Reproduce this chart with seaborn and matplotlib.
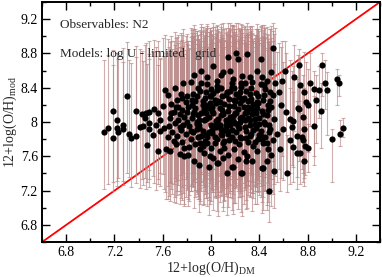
import matplotlib
matplotlib.use("Agg")
import matplotlib.pyplot as plt
from matplotlib.ticker import MultipleLocator, FormatStrFormatter
import numpy as np
import pandas as pd
import seaborn as sns

# 12+log(O/H) from direct method (x), model estimate (y), and model range (lo/hi)
oh_dm = [
    # sparse low-metallicity end
    7.11, 7.15, 7.19, 7.19, 7.22, 7.23, 7.27, 7.27, 7.30, 7.34,
    7.38, 7.38, 7.43, 7.44, 7.46, 7.47, 7.49, 7.49, 7.49, 7.52,
    7.54, 7.56, 7.56, 7.58, 7.60, 7.61, 7.22, 7.32, 7.41, 7.45,
    7.53, 7.58,
    7.62, 7.63, 7.64, 7.65, 7.66, 7.66, 7.67, 7.68, 7.69, 7.70,
    7.70, 7.71, 7.72, 7.72, 7.73, 7.73, 7.74, 7.74, 7.75, 7.75,
    7.76, 7.76, 7.77, 7.77, 7.78, 7.78, 7.79, 7.79, 7.80, 7.80,
    7.64, 7.67, 7.69, 7.71, 7.74, 7.76, 7.78, 7.80,
    # dense core
    7.81, 7.83, 7.82, 7.84, 7.81, 7.85, 7.83, 7.82,
    7.86, 7.87, 7.85, 7.88, 7.86, 7.87, 7.89, 7.86, 7.88,
    7.90, 7.91, 7.92, 7.90, 7.89, 7.93, 7.91, 7.92, 7.90,
    7.94, 7.95, 7.93, 7.96, 7.94, 7.95, 7.97, 7.93, 7.96,
    7.98, 7.99, 7.97, 8.00, 7.98, 7.99, 8.00, 7.97, 8.01, 7.98,
    8.02, 8.03, 8.01, 8.04, 8.02, 8.03, 8.05, 8.02, 8.04, 8.01,
    8.06, 8.07, 8.05, 8.08, 8.06, 8.07, 8.09, 8.05, 8.08, 8.06,
    8.10, 8.11, 8.09, 8.12, 8.10, 8.11, 8.13, 8.10, 8.12, 8.09,
    8.14, 8.15, 8.13, 8.16, 8.14, 8.15, 8.17, 8.14, 8.16,
    8.18, 8.19, 8.17, 8.20, 8.18, 8.19, 8.21, 8.18, 8.20, 8.17,
    8.22, 8.23, 8.21, 8.24, 8.22, 8.23, 8.25, 8.22, 8.24,
    8.26, 8.27, 8.25, 8.28, 8.26, 8.27, 8.29, 8.26, 8.28,
    8.30, 8.31, 8.29, 8.32, 8.30, 8.31, 8.33, 8.30, 8.32,
    8.34, 8.35, 8.33, 8.36, 8.34, 8.35, 8.37, 8.34, 8.36,
    8.38, 8.39, 8.37, 8.40, 8.38, 8.39, 8.41, 8.38,
    8.42, 8.43, 8.41, 8.44, 8.42, 8.43, 8.45, 8.42,
    8.46, 8.47, 8.45, 8.48, 8.46, 8.47, 8.49, 8.46,
    8.50, 8.51, 8.49, 8.52, 8.50, 8.51, 8.53, 8.50,
    7.88, 7.96, 8.00, 8.04, 8.08, 8.12, 8.16, 8.20, 8.24, 8.28,
    8.32, 8.36, 7.92, 8.00, 8.08, 8.16, 8.24, 8.32, 8.40, 7.84,
    8.48, 8.13, 8.25, 8.17, 8.52, 8.05, 8.29, 8.43, 8.21, 8.41, 8.51,
    7.83, 7.87, 7.91, 7.95, 7.99, 8.03, 8.07, 8.11, 8.15, 8.19,
    8.23, 8.27, 8.31, 8.35, 8.39, 8.43, 8.47, 7.85, 7.89, 7.93,
    7.97, 8.01, 8.05, 8.09, 8.13, 8.17, 8.21, 8.25, 8.29, 8.33,
    8.37, 8.41, 8.45, 8.49, 7.84, 7.88, 7.92, 7.96, 8.00, 8.04,
    8.08, 8.12, 8.16, 8.20, 8.24, 8.28, 8.32, 8.36, 8.40, 8.44,
    8.48, 7.90, 7.98, 8.06, 8.14, 8.22, 8.30, 8.38, 8.46, 8.02,
    8.10, 8.18, 8.26, 8.34, 8.42, 7.94, 8.07, 8.19, 8.31, 8.44,
    # high-metallicity end
    8.61, 8.73, 8.92, 8.69, 9.04, 9.06, 8.82, 8.94, 8.85, 8.89,
    8.96, 8.77, 8.74, 8.87, 8.79, 8.80, 8.91, 8.76, 8.85, 9.00,
    9.07, 9.09, 8.77, 8.76, 8.78, 8.80, 8.77, 8.74, 8.71, 8.68,
    8.71, 8.75, 8.67, 8.68, 8.72, 8.73, 8.65, 8.65, 8.63, 8.58,
    8.60, 8.56, 8.62, 8.57, 8.59, 8.55,
]

oh_mod = [
    7.88, 7.93, 8.13, 7.81, 7.93, 7.88, 7.96, 7.92, 8.30, 7.81,
    8.13, 7.84, 8.09, 7.95, 8.10, 7.73, 8.12, 7.99, 7.92, 7.85,
    7.97, 7.66, 8.11, 7.90, 8.19, 7.93, 8.02, 7.86, 7.94, 8.05,
    8.15, 8.02,
    8.37, 7.68, 8.31, 7.95, 8.05, 7.66, 8.21, 7.88, 8.12, 7.99,
    8.40, 7.74, 8.26, 7.84, 8.02, 8.17, 7.63, 8.09, 8.33, 7.91,
    8.14, 7.77, 8.45, 7.97, 8.06, 7.70, 8.23, 7.86, 8.30, 8.00,
    7.82, 8.10, 7.78, 8.18, 7.94, 8.28, 7.60, 8.12,
    7.62, 7.80, 7.95, 8.05, 8.18, 8.33, 8.47, 7.71,
    7.55, 7.74, 7.88, 8.00, 8.12, 8.25, 8.40, 8.55, 7.98,
    7.50, 7.68, 7.84, 7.93, 8.08, 8.20, 8.36, 8.60, 8.02,
    7.64, 7.78, 7.90, 8.04, 8.15, 8.28, 8.44, 7.72, 8.10,
    7.47, 7.60, 7.82, 7.96, 8.06, 8.22, 8.38, 8.52, 8.13, 7.88,
    7.58, 7.75, 7.87, 8.01, 8.11, 8.26, 8.42, 8.65, 7.94, 8.18,
    7.52, 7.66, 7.80, 7.92, 8.04, 8.16, 8.30, 8.48, 8.08, 7.98,
    7.58, 7.70, 7.85, 7.97, 8.09, 8.21, 8.35, 8.58, 8.02, 8.14,
    7.62, 7.79, 7.90, 8.03, 8.13, 8.27, 8.45, 8.76, 7.96,
    7.48, 7.68, 7.83, 7.99, 8.07, 8.19, 8.33, 8.50, 8.11, 7.91,
    7.57, 7.74, 7.88, 8.00, 8.15, 8.29, 8.41, 8.73, 8.05,
    7.40, 7.65, 7.81, 7.94, 8.06, 8.18, 8.36, 8.54, 8.10,
    7.60, 7.77, 7.89, 8.02, 8.12, 8.24, 8.40, 8.79, 7.97,
    7.54, 7.72, 7.86, 7.98, 8.09, 8.21, 8.34, 8.47, 8.03,
    7.66, 7.80, 7.93, 8.05, 8.16, 8.30, 8.44, 8.60,
    7.46, 7.75, 7.90, 8.00, 8.13, 8.26, 8.38, 8.52,
    7.54, 7.68, 7.82, 7.96, 8.08, 8.20, 8.35, 8.48,
    7.62, 7.79, 7.92, 8.04, 8.18, 8.32, 8.45, 8.58,
    8.30, 8.35, 7.70, 8.22, 8.40, 7.92, 8.36, 8.25, 7.83, 8.45,
    7.84, 8.12, 8.46, 8.30, 8.55, 8.60, 8.35, 8.52, 7.85, 8.20,
    7.20, 7.40, 7.40, 7.47, 7.43, 7.52, 7.54, 7.46, 8.80, 8.74, 8.86,
    7.90, 8.16, 7.76, 8.20, 8.30, 7.83, 8.23, 7.78, 8.19, 8.26,
    7.93, 8.28, 8.17, 7.91, 8.22, 8.09, 8.14, 8.09, 7.82, 8.24,
    7.75, 7.91, 8.37, 7.90, 8.00, 8.41, 8.10, 8.46, 7.81, 8.27,
    8.11, 7.84, 7.98, 8.24, 8.26, 7.92, 8.11, 7.85, 8.19, 7.97,
    7.86, 8.31, 8.06, 7.78, 8.22, 8.02, 8.33, 7.77, 7.98, 8.43,
    7.88, 7.96, 8.16, 8.24, 7.86, 7.95, 8.15, 8.23, 7.75, 8.34,
    7.75, 8.01, 8.26, 8.15, 7.80, 8.02, 7.96, 8.40, 8.05, 8.31,
    8.60, 8.66, 8.66, 8.53, 8.50, 8.46, 8.46, 8.46, 8.38, 8.37,
    8.37, 8.35, 8.43, 8.26, 8.23, 8.20, 8.13, 8.06, 7.95, 7.80,
    7.86, 7.93, 7.92, 7.79, 7.72, 7.70, 7.54, 7.64, 7.64, 7.71,
    7.84, 7.82, 7.94, 8.01, 8.16, 8.15, 8.03, 7.79, 7.40, 8.20,
    7.92, 8.35, 8.12, 7.68, 8.48, 7.86,
]

oh_lo = [
    7.22, 7.28, 7.30, 7.20, 7.25, 7.35, 7.31, 7.27, 7.40, 7.24,
    7.38, 7.29, 7.33, 7.26, 7.22, 7.30, 7.44, 7.34, 7.24, 7.37,
    7.21, 7.28, 7.33, 7.25, 7.39, 7.22, 7.31, 7.36, 7.23, 7.35,
    7.29, 7.40,
    7.18, 7.10, 7.25, 7.14, 7.30, 7.08, 7.22, 7.16, 7.28, 7.12,
    7.35, 7.06, 7.20, 7.15, 7.26, 7.32, 7.04, 7.19, 7.38, 7.11,
    7.24, 7.09, 7.40, 7.17, 7.27, 7.05, 7.33, 7.13, 7.36, 7.21,
    7.10, 7.29, 7.07, 7.31, 7.16, 7.34, 7.02, 7.23,
    7.02, 7.20, 7.15, 7.28, 7.10, 7.32, 7.25, 7.08,
    7.00, 7.12, 7.24, 7.18, 7.30, 7.21, 7.35, 7.40, 7.16,
    6.95, 7.08, 7.19, 7.26, 7.14, 7.31, 7.23, 7.42, 7.10,
    7.05, 7.16, 7.27, 7.11, 7.34, 7.20, 7.38, 7.03, 7.25,
    6.92, 7.04, 7.17, 7.23, 7.13, 7.29, 7.36, 7.40, 7.21, 7.09,
    6.98, 7.14, 7.22, 7.30, 7.18, 7.25, 7.37, 7.45, 7.11, 7.33,
    6.91, 7.07, 7.18, 7.24, 7.15, 7.31, 7.27, 7.39, 7.20, 7.12,
    6.96, 7.09, 7.21, 7.16, 7.28, 7.23, 7.34, 7.42, 7.14, 7.26,
    7.01, 7.17, 7.25, 7.19, 7.32, 7.28, 7.37, 7.48, 7.13,
    6.93, 7.06, 7.20, 7.25, 7.16, 7.30, 7.34, 7.41, 7.23, 7.11,
    6.99, 7.12, 7.24, 7.17, 7.33, 7.27, 7.36, 7.47, 7.20,
    6.90, 7.05, 7.19, 7.23, 7.14, 7.29, 7.35, 7.40, 7.21,
    7.00, 7.15, 7.26, 7.18, 7.31, 7.25, 7.38, 7.50, 7.12,
    6.96, 7.11, 7.22, 7.27, 7.17, 7.30, 7.34, 7.39, 7.20,
    7.04, 7.18, 7.24, 7.29, 7.20, 7.32, 7.37, 7.43,
    6.94, 7.13, 7.25, 7.19, 7.31, 7.27, 7.36, 7.40,
    6.98, 7.07, 7.20, 7.26, 7.17, 7.30, 7.34, 7.39,
    7.02, 7.16, 7.23, 7.28, 7.21, 7.33, 7.37, 7.42,
    7.30, 7.35, 7.08, 7.28, 7.37, 7.16, 7.34, 7.29, 7.12, 7.40,
    7.14, 7.25, 7.39, 7.32, 7.43, 7.45, 7.33, 7.41, 7.15, 7.27,
    6.84, 6.92, 6.95, 6.98, 7.00, 6.96, 6.99, 6.97, 7.52, 7.48, 7.55,
    7.20, 7.33, 7.05, 7.36, 7.41, 7.12, 7.38, 7.08, 7.34, 7.40,
    7.22, 7.42, 7.31, 7.17, 7.37, 7.26, 7.29, 7.25, 7.10, 7.39,
    7.02, 7.18, 7.45, 7.15, 7.23, 7.47, 7.27, 7.50, 7.09, 7.41,
    7.28, 7.13, 7.21, 7.38, 7.40, 7.19, 7.30, 7.11, 7.35, 7.22,
    7.14, 7.44, 7.26, 7.06, 7.39, 7.24, 7.46, 7.04, 7.20, 7.48,
    7.16, 7.21, 7.33, 7.40, 7.12, 7.19, 7.32, 7.39, 7.03, 7.45,
    7.01, 7.23, 7.41, 7.31, 7.07, 7.24, 7.18, 7.46, 7.27, 7.43,
    8.10, 8.25, 8.30, 7.90, 8.20, 8.30, 7.95, 8.15, 7.60, 8.05,
    7.85, 7.70, 7.80, 7.75, 7.55, 7.65, 7.70, 7.40, 7.50, 7.30,
    7.72, 7.82, 7.35, 7.30, 7.38, 7.42, 7.25, 7.28, 7.22, 7.30,
    7.36, 7.45, 7.50, 7.48, 7.60, 7.55, 7.40, 7.28, 7.18, 7.35,
    7.32, 7.45, 7.42, 7.20, 7.60, 7.30,
]

oh_hi = [
    8.72, 8.78, 8.84, 8.66, 8.80, 8.74, 8.86, 8.70, 8.93, 8.69,
    8.89, 8.76, 8.83, 8.71, 8.92, 8.68, 8.95, 8.79, 8.73, 8.82,
    8.87, 8.67, 8.94, 8.75, 8.98, 8.77, 8.81, 8.72, 8.85, 8.90,
    8.96, 8.74,
    9.02, 8.80, 8.97, 8.88, 8.93, 8.78, 9.00, 8.85, 8.95, 8.90,
    9.05, 8.82, 8.99, 8.86, 8.92, 9.01, 8.76, 8.94, 9.04, 8.87,
    8.96, 8.83, 9.08, 8.89, 8.93, 8.79, 9.00, 8.84, 9.03, 8.91,
    8.81, 8.95, 8.80, 8.98, 8.88, 9.02, 8.75, 8.94,
    8.90, 8.99, 8.85, 9.04, 8.95, 9.08, 9.10, 8.86,
    8.86, 8.97, 8.93, 9.06, 9.00, 9.09, 9.02, 9.13, 8.91,
    8.82, 8.95, 9.05, 8.90, 9.01, 9.11, 9.07, 9.14, 8.97,
    8.88, 9.02, 8.94, 9.08, 8.98, 9.05, 9.12, 8.85, 9.00,
    8.76, 8.91, 9.00, 8.96, 9.05, 9.10, 9.01, 9.14, 8.93, 8.87,
    8.84, 8.98, 8.92, 9.07, 9.00, 9.11, 9.04, 9.15, 8.90, 9.03,
    8.78, 8.94, 9.02, 8.88, 9.06, 8.97, 9.09, 9.13, 8.99, 8.93,
    8.85, 8.96, 8.91, 9.04, 8.98, 9.08, 9.05, 9.15, 8.95, 9.01,
    8.89, 9.00, 8.95, 9.07, 9.03, 9.10, 9.12, 9.15, 8.93,
    8.80, 8.93, 9.00, 8.92, 9.05, 8.97, 9.09, 9.13, 9.02, 8.89,
    8.86, 8.97, 8.94, 9.06, 9.00, 9.10, 9.04, 9.15, 8.96,
    8.77, 8.92, 8.99, 8.91, 9.04, 8.96, 9.08, 9.13, 9.01,
    8.88, 8.99, 8.93, 9.05, 9.02, 9.09, 9.06, 9.15, 8.91,
    8.83, 8.95, 9.01, 8.92, 9.04, 8.97, 9.08, 9.12, 8.98,
    8.90, 8.98, 8.94, 9.06, 9.00, 9.08, 9.11, 9.14,
    8.79, 8.96, 8.92, 9.04, 8.99, 9.07, 9.10, 9.13,
    8.84, 8.93, 8.99, 8.91, 9.03, 8.97, 9.08, 9.11,
    8.86, 8.95, 8.93, 9.03, 8.98, 9.06, 9.10, 9.12,
    9.06, 9.10, 8.91, 9.03, 9.11, 8.95, 9.09, 9.05, 8.93, 9.12,
    8.94, 9.01, 9.11, 9.07, 9.14, 9.15, 9.08, 9.12, 8.96, 9.00,
    8.30, 8.62, 8.70, 8.75, 8.68, 8.80, 8.78, 8.72, 9.15, 9.12, 9.15,
    8.95, 9.04, 8.88, 9.07, 9.10, 8.92, 9.05, 8.87, 9.06, 9.09,
    8.96, 9.11, 9.03, 8.94, 9.08, 9.00, 9.02, 8.99, 8.91, 9.06,
    8.86, 8.97, 9.12, 8.93, 9.01, 9.13, 9.03, 9.14, 8.90, 9.09,
    9.02, 8.92, 8.98, 9.08, 9.07, 8.96, 9.03, 8.89, 9.06, 8.99,
    8.90, 9.10, 9.01, 8.88, 9.07, 8.99, 9.11, 8.87, 8.98, 9.13,
    8.94, 8.97, 9.05, 9.08, 8.91, 8.95, 9.04, 9.08, 8.86, 9.11,
    8.88, 8.99, 9.09, 9.03, 8.90, 9.00, 8.96, 9.12, 9.01, 9.10,
    8.95, 8.85, 8.80, 8.90, 8.62, 8.55, 8.80, 8.72, 8.60, 8.65,
    8.58, 8.82, 8.75, 8.55, 8.70, 8.62, 8.45, 8.55, 8.30, 7.92,
    8.02, 8.05, 8.40, 8.20, 8.05, 7.98, 7.90, 8.10, 8.25, 8.35,
    8.50, 8.45, 8.60, 8.65, 8.78, 8.70, 8.72, 8.40, 7.85, 8.88,
    8.70, 8.92, 8.80, 8.50, 8.95, 8.82,
]

one_to_one = [6.6, 9.4]

df = pd.DataFrame({"dm": oh_dm, "mod": oh_mod, "lo": oh_lo, "hi": oh_hi})

sns.set_style("ticks")
plt.rcParams["font.family"] = ["Liberation Serif", "DejaVu Serif"]
plt.rcParams["mathtext.fontset"] = "custom"
plt.rcParams["mathtext.rm"] = "Liberation Serif"

fig = plt.figure(figsize=(3.82, 2.77), dpi=100)
ax = fig.add_axes([0.110, 0.126, 0.885, 0.867])

ax.plot(one_to_one, one_to_one, color="red", lw=1.3, zorder=1)

yerr = np.vstack([df["mod"] - df["lo"], df["hi"] - df["mod"]])
ax.errorbar(df["dm"], df["mod"], yerr=yerr, fmt="none", ecolor="#b88585",
            elinewidth=0.8, capsize=1.5, capthick=0.8, alpha=0.65, zorder=2)

sns.scatterplot(data=df, x="dm", y="mod", ax=ax, color="black", s=20,
                edgecolor="black", linewidth=0, zorder=3)

ax.set_xlim(6.6, 9.4)
ax.set_ylim(6.6, 9.4)
ax.xaxis.set_major_locator(MultipleLocator(0.4))
ax.yaxis.set_major_locator(MultipleLocator(0.4))
ax.xaxis.set_minor_locator(MultipleLocator(0.2))
ax.yaxis.set_minor_locator(MultipleLocator(0.2))
ax.xaxis.set_major_formatter(FormatStrFormatter("%g"))
ax.yaxis.set_major_formatter(FormatStrFormatter("%g"))
ax.tick_params(which="both", direction="in", top=True, right=True,
               labelsize=10, colors="black", width=1.0, pad=3)
ax.tick_params(which="major", length=5.5)
ax.tick_params(which="minor", length=3)
for sp in ax.spines.values():
    sp.set_linewidth(1.4)
    sp.set_color("black")

ax.set_xlabel(r"12+log(O/H)$_{\rm DM}$", fontsize=10, labelpad=0)
ax.set_ylabel(r"12+log(O/H)$_{\rm mod}$", fontsize=10, labelpad=1)

ax.text(0.053, 0.905, "Observables: N2", transform=ax.transAxes,
        fontsize=9.5, va="center", ha="left", zorder=4)
ax.text(0.053, 0.785, "Models: log U - limited   grid", transform=ax.transAxes,
        fontsize=9.5, va="center", ha="left", zorder=4)

fig.savefig("out.png", dpi=100)
